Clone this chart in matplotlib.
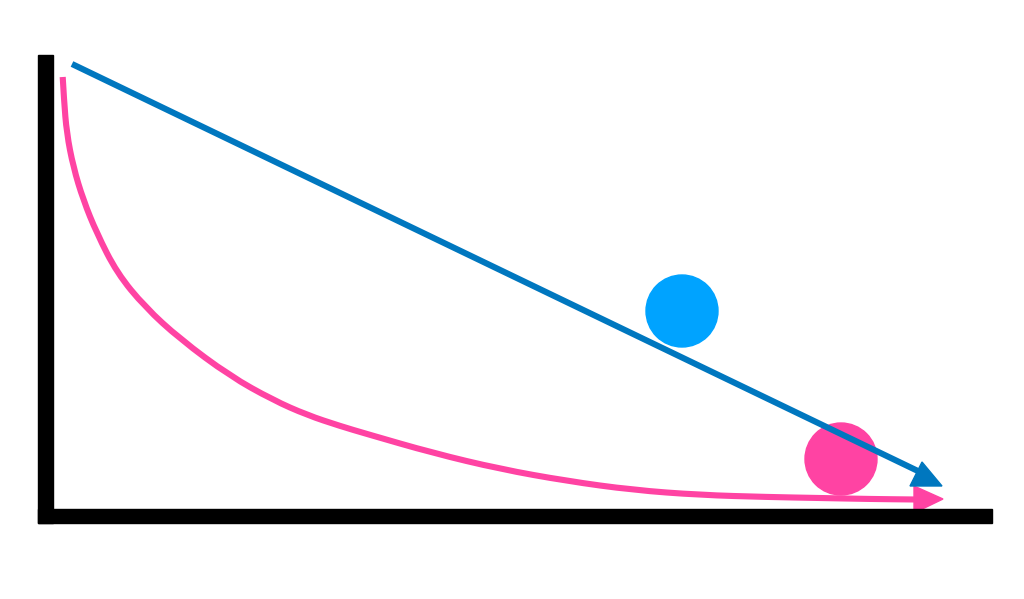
import matplotlib
matplotlib.use("Agg")
import matplotlib.pyplot as plt
from matplotlib.patches import Rectangle, Circle, Polygon, PathPatch
from matplotlib.path import Path

# Geometry in pixel-like data coordinates (y grows downward)
axis_left_bar = (38, 55, 14.5, 468)      # x, y, width, height
axis_bottom_bar = (38, 508.5, 954, 14.5)

blue_line_x = [72, 920]
blue_line_y = [64, 472]
blue_head = [(910, 486), (942, 486), (922, 462)]

pink_curve_x = [62.7, 64, 66.7, 73.3, 83.3, 96.7, 117, 145, 180, 230, 273, 307,
                340, 367, 433, 500, 567, 633, 700, 767, 820, 870, 916]
pink_curve_y = [77, 100, 133, 167, 200, 233, 273, 307, 339, 376, 400, 415,
                426, 434, 453, 469, 481, 490, 495, 497, 498, 499, 499.5]
pink_head = [(914, 486), (914, 513), (943, 499)]

blue_circle = (682, 311, 36)
pink_circle = (841, 459, 36)

blue_line_color = "#0077BF"
blue_circle_color = "#00A3FF"
pink_color = "#FF43A3"

fig = plt.figure(figsize=(10.24, 5.99), dpi=100)
ax = fig.add_axes([0, 0, 1, 1])
ax.set_xlim(0, 1024)
ax.set_ylim(599, 0)
ax.axis("off")

ax.add_patch(Circle(blue_circle[:2], blue_circle[2], color=blue_circle_color, zorder=2))
ax.add_patch(Circle(pink_circle[:2], pink_circle[2], color=pink_color, zorder=2))

# smooth rendering of the pink curve: quadratic segments through midpoints
pts = list(zip(pink_curve_x, pink_curve_y))
verts = [pts[0]]
codes = [Path.MOVETO]
for i in range(1, len(pts) - 1):
    mid = ((pts[i][0] + pts[i + 1][0]) / 2, (pts[i][1] + pts[i + 1][1]) / 2)
    verts += [pts[i], mid]
    codes += [Path.CURVE3, Path.CURVE3]
verts.append(pts[-1])
codes.append(Path.LINETO)
ax.add_patch(PathPatch(Path(verts, codes), facecolor="none", edgecolor=pink_color,
                       lw=4.4, capstyle="butt", joinstyle="round", zorder=3))
ax.add_patch(Polygon(pink_head, closed=True, color=pink_color, zorder=3))

ax.plot(blue_line_x, blue_line_y, color=blue_line_color, lw=4.4, solid_capstyle="butt", zorder=4)
ax.add_patch(Polygon(blue_head, closed=True, color=blue_line_color, zorder=4))

x, y, w, h = axis_left_bar
ax.add_patch(Rectangle((x, y), w, h, color="black", zorder=5))
x, y, w, h = axis_bottom_bar
ax.add_patch(Rectangle((x, y), w, h, color="black", zorder=5))

fig.savefig("out.png", dpi=100, facecolor="white")
